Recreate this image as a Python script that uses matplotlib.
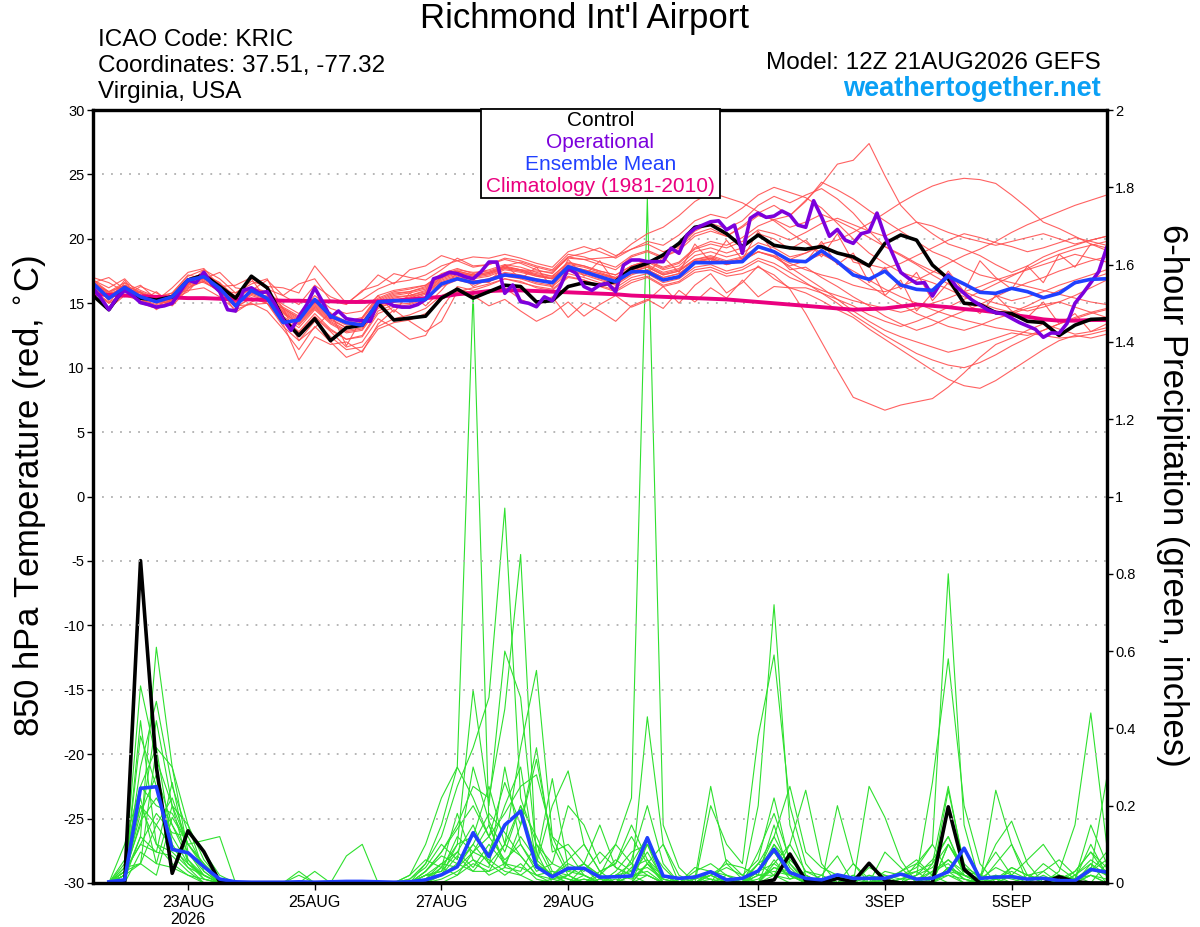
import numpy as np
import matplotlib
matplotlib.use('Agg')
import matplotlib.pyplot as plt
from matplotlib.patches import Rectangle

plt.rcParams['font.family'] = ['Liberation Sans', 'DejaVu Sans']
plt.rcParams['axes.unicode_minus'] = False

# forecast hours from 12Z 21AUG2026
hours_t = np.arange(0, 385, 6)      # 6-hourly temperature
hours_op = np.arange(0, 385, 3)     # operational run, 3-hourly
hours_p = np.arange(6, 385, 6)      # 6-hour precip totals

tick_hours = [36, 84, 132, 180, 252, 300, 348]
tick_labels = ['23AUG\n2026', '25AUG', '27AUG', '29AUG', '1SEP', '3SEP', '5SEP']

# 850 hPa temperature, control run
t_control = [15.6, 14.5, 16.2, 15.4, 15.25, 15.5, 16.8, 17.2, 16.3, 15.4, 17.1, 16.2,
             13.8, 12.5, 13.8, 12.1, 13.1, 13.3, 15.0, 13.7, 13.85, 14.0, 15.4, 16.1, 15.4, 15.9,
             16.4, 16.3, 15.1, 15.2, 16.3, 16.6, 16.4, 16.7, 17.7, 18.1, 18.75, 19.65, 20.9,
             21.1, 20.4, 19.4, 20.3, 19.5, 19.3, 19.2, 19.4, 18.9, 18.6, 17.9, 19.65, 20.3,
             19.9, 17.97, 16.9, 15.0, 14.9, 14.27, 14.2, 13.6, 13.5, 12.5, 13.3, 13.75, 13.8]

# operational (3-hourly)
t_oper = [16.2, 15.4, 14.5, 15.4, 16.0, 15.6, 15.05, 14.9, 14.7, 14.8, 15.0, 15.9, 16.8,
          16.6, 17.4, 16.5, 15.9, 14.5, 14.4, 16.0, 16.2, 15.8, 15.9, 14.9, 13.75, 12.9,
          13.95, 14.9, 16.2, 15.1, 13.9, 14.4, 13.8, 13.7, 13.65, 13.6, 15.1, 15.1, 14.8,
          14.7, 14.7, 14.9, 15.3, 16.9, 17.1, 17.4, 17.3, 17.06, 16.9, 17.45, 18.2, 18.2,
          15.77, 16.42, 15.12, 15.0, 14.73, 15.5, 15.2, 16.3, 17.7, 17.33, 16.3, 16.0, 16.42,
          16.55, 15.9, 17.97, 18.36, 18.36, 18.23, 18.23, 18.23, 19.27, 18.88, 20.3, 20.8,
          21.07, 21.33, 21.4, 20.7, 21.07, 18.88, 21.6, 22.0, 21.67, 21.77, 22.16, 21.85,
          21.07, 20.9, 22.96, 21.7, 20.2, 20.73, 19.9, 19.65, 20.4, 20.56, 22.0,
          20.2, 18.8, 17.4, 16.94, 16.55, 16.6, 15.56, 16.55, 17.2, 16.3, 15.77, 15.25,
          14.87, 14.48, 14.27, 14.17, 13.83, 13.5, 13.24, 12.98, 12.36, 12.7, 12.67, 13.44,
          15.0, 15.77, 16.6, 17.45, 19.3]

# ensemble mean
t_mean = [16.55, 15.38, 16.24, 15.5, 15.12, 15.5, 16.8, 17.06, 16.16, 14.8, 16.0, 15.38,
          13.5, 13.7, 15.3, 14.0, 13.5, 13.3, 15.1, 15.2, 15.2, 15.3, 16.5, 16.9, 16.6,
          16.8, 17.2, 17.06, 16.8, 16.6, 17.84, 17.45, 17.06, 16.68, 17.45, 17.45, 16.8,
          17.06, 18.15, 18.15, 18.17, 18.23, 19.4, 19.0, 18.3,
          18.23, 19.08, 18.23, 17.2, 16.86, 17.5, 16.42, 16.08, 16.0, 17.1, 16.5, 15.85,
          15.77, 16.16, 15.9, 15.43, 15.77, 16.6, 16.86, 16.9]

# climatology (1981-2010)
t_clim = [15.7, 15.65, 15.6, 15.55, 15.5, 15.45, 15.4, 15.4, 15.35, 15.3, 15.3, 15.25,
          15.2, 15.2, 15.15, 15.15, 15.1, 15.1, 15.15, 15.2, 15.3, 15.4, 15.5, 15.7, 15.8,
          15.95, 16.0, 16.0, 15.95, 15.9, 15.85, 15.8, 15.75, 15.7, 15.6, 15.55, 15.5, 15.45,
          15.4, 15.35, 15.3, 15.2, 15.1, 15.0, 14.9, 14.8, 14.7, 14.6, 14.5, 14.55, 14.6,
          14.75, 14.9, 14.8, 14.7, 14.55, 14.45, 14.3, 14.1, 13.95, 13.75, 13.65, 13.65,
          13.7, 13.7]

# ensemble members, temperature
t_m01 = [17.0, 16.6, 15.9, 16.4, 15.3, 15.8, 17.2, 16.9, 17.4, 16.2, 16.0, 16.8,
         15.6, 14.9, 16.4, 15.5, 15.0, 15.3, 16.1, 16.6, 16.8, 17.2, 17.9, 18.3, 17.8,
         18.0, 18.4, 18.1, 17.6, 17.3, 18.6, 18.4, 18.0, 17.6, 18.6,
         19.0, 18.5, 19.3, 20.4, 20.8, 20.2, 21.0, 22.0, 22.6, 21.8,
         23.0, 24.2, 25.8, 26.1, 27.4, 24.9, 22.6, 21.3, 20.4, 19.6,
         19.2, 18.7, 18.0, 17.4, 17.9, 18.6, 19.1, 19.5, 19.9, 20.2]
t_m02 = [16.2, 14.6, 15.6, 15.9, 14.5, 15.3, 15.9, 17.3, 16.2, 14.3, 15.1, 15.6,
         13.6, 12.4, 13.9, 12.8, 11.6, 12.0, 13.8, 13.1, 12.2, 12.5, 14.6, 16.3, 16.0,
         16.4, 16.9, 16.7, 16.2, 16.0, 17.0, 16.8, 16.3, 15.9, 16.6,
         17.0, 16.3, 16.6, 17.4, 17.6, 17.1, 17.3, 17.8, 17.2, 16.1,
         14.2, 12.0, 9.8, 7.7, 7.2, 6.7, 7.1, 7.35, 7.6, 8.5,
         9.6, 10.8, 11.8, 12.3, 12.9, 13.4, 13.0, 12.6, 12.8, 13.1]
t_m03 = [16.6, 15.9, 16.4, 15.8, 15.4, 15.6, 16.9, 17.3, 16.6, 15.5, 16.2, 15.9,
         14.9, 14.2, 15.6, 14.6, 14.2, 14.4, 15.6, 16.0, 16.2, 16.4, 17.2, 17.6, 17.4,
         17.5, 17.9, 17.6, 17.2, 17.0, 17.9, 17.6, 17.3, 17.0, 17.6,
         17.9, 17.3, 17.6, 18.4, 18.6, 18.2, 18.5, 19.3, 19.0, 18.4,
         18.9, 19.6, 19.9, 20.5, 21.2, 22.0, 22.8, 23.5, 24.1, 24.5,
         24.7, 24.6, 24.3, 23.4, 22.4, 21.3, 20.8, 20.2, 19.6, 19.3]
t_m04 = [16.0, 15.1, 15.7, 15.3, 14.9, 15.2, 16.3, 16.7, 15.9, 14.7, 15.4, 15.0,
         13.2, 12.1, 13.6, 12.4, 11.4, 11.6, 13.2, 13.8, 14.1, 14.6, 15.6, 16.1, 15.8,
         15.8, 16.2, 15.3, 14.8, 15.5, 13.9, 15.0, 14.4, 13.6, 14.8,
         15.3, 14.6, 16.0, 15.1, 16.2, 15.4, 16.8, 15.5, 16.3, 16.2,
         15.8, 15.2, 14.5, 13.9, 13.0, 12.2, 11.4, 10.6, 9.8, 9.1,
         8.6, 8.4, 9.0, 9.8, 10.6, 11.4, 12.1, 12.5, 12.3, 12.6]
t_m05 = [16.6, 17.0, 16.1, 15.1, 15.9, 14.9, 16.4, 17.6, 15.8, 15.6, 16.9, 15.2,
         14.6, 13.9, 15.1, 14.0, 13.4, 13.6, 15.2, 15.7, 15.9, 16.2, 17.1, 17.5, 17.2,
         17.4, 17.9, 18.2, 17.8, 17.5, 18.6, 18.9, 19.3, 18.7, 19.2,
         19.6, 19.0, 19.4, 20.6, 21.2, 20.8, 21.4, 22.6, 23.3, 22.8,
         23.4, 23.9, 23.1, 22.0, 20.6, 19.4, 18.8, 18.1, 17.5, 17.0,
         16.4, 16.0, 15.6, 15.2, 15.5, 15.9, 16.4, 16.8, 17.2, 17.6]
t_m06 = [16.3, 15.5, 16.0, 15.6, 15.1, 15.3, 16.5, 16.9, 16.2, 15.0, 15.7, 15.3,
         14.2, 13.3, 14.6, 13.5, 12.8, 13.0, 14.7, 15.1, 15.4, 15.8, 16.8, 17.2, 16.9,
         17.1, 17.6, 17.4, 17.1, 16.9, 18.0, 17.8, 17.4, 17.0, 17.8,
         18.2, 17.6, 17.9, 19.0, 19.3, 18.9, 19.3, 20.4, 20.0, 19.2,
         19.9, 18.6, 20.4, 18.2, 17.9, 15.6, 16.8, 14.4, 15.8, 17.5,
         15.9, 18.3, 17.0, 16.1, 17.9, 16.6, 18.8, 17.8, 19.6, 19.1]
t_m07 = [16.5, 15.4, 16.2, 15.5, 15.2, 15.4, 16.6, 17.1, 16.3, 15.1, 15.8, 15.4,
         13.9, 12.8, 14.2, 13.0, 12.2, 12.5, 14.4, 14.9, 15.0, 15.4, 16.4, 16.9, 16.5,
         16.8, 17.3, 17.0, 16.6, 16.4, 17.5, 17.2, 16.8, 16.4, 17.2,
         17.6, 17.0, 17.3, 18.2, 18.5, 18.0, 18.3, 19.0, 18.6, 17.8,
         17.0, 16.2, 15.3, 14.4, 13.6, 12.9, 12.4, 12.0, 11.6, 11.2,
         11.5, 11.9, 12.3, 12.7, 12.5, 12.9, 13.4, 13.8, 14.2, 14.5]
t_m08 = [16.8, 15.9, 16.6, 16.0, 15.5, 15.8, 17.1, 17.6, 16.9, 15.8, 16.7, 16.3,
         16.2, 15.8, 17.9, 16.4, 15.0, 15.9, 17.2, 16.5, 17.6, 17.9, 18.7, 18.3, 18.6,
         18.5, 18.8, 18.5, 18.1, 17.8, 19.0, 19.4, 19.0, 18.5, 19.2,
         19.8, 19.5, 20.3, 21.4, 21.9, 21.6, 22.4, 23.4, 24.0, 23.6,
         23.2, 22.4, 21.2, 20.0, 18.9, 18.1, 17.4, 17.0, 16.6, 16.1,
         15.5, 15.0, 14.6, 14.3, 14.8, 15.4, 16.0, 16.5, 16.9, 17.3]
t_m09 = [15.9, 15.0, 16.6, 15.0, 14.6, 15.7, 16.0, 16.2, 15.5, 14.5, 15.0, 14.4,
         13.0, 11.4, 13.2, 12.0, 10.8, 11.3, 13.0, 13.5, 13.7, 14.2, 15.3, 15.9, 15.6,
         14.8, 15.3, 14.4, 13.6, 14.2, 15.1, 14.0, 14.9, 15.6, 14.7,
         15.2, 16.3, 15.0, 16.4, 17.3, 15.8, 16.6, 17.9, 16.9, 16.2,
         16.2, 15.8, 15.3, 14.8, 14.1, 13.6, 13.2, 13.6, 14.1, 14.7,
         15.3, 15.9, 16.5, 17.1, 17.7, 18.3, 18.8, 19.2, 19.5, 19.8]
t_m10 = [16.6, 15.7, 16.2, 15.8, 15.3, 15.6, 16.7, 17.2, 16.4, 15.4, 16.1, 15.7,
         14.4, 13.6, 14.9, 13.8, 13.1, 13.4, 15.0, 15.5, 15.6, 15.9, 16.9, 17.3, 17.0,
         17.2, 17.7, 17.5, 17.2, 16.9, 17.8, 17.5, 17.2, 16.9, 17.5,
         17.8, 17.2, 17.5, 18.3, 18.5, 18.1, 18.4, 19.0, 18.7, 18.1,
         17.6, 17.2, 16.9, 16.4, 16.1, 15.9, 16.3, 16.8, 17.4, 18.1,
         18.7, 19.2, 19.8, 20.5, 21.1, 21.6, 22.1, 22.6, 23.0, 23.4]
t_m11 = [16.4, 15.9, 15.5, 16.3, 15.8, 15.1, 16.8, 16.6, 16.0, 15.8, 16.5, 16.9,
         14.5, 13.7, 15.0, 13.9, 13.3, 13.5, 15.1, 15.6, 15.8, 16.1, 17.0, 17.4, 17.1,
         17.3, 17.8, 17.6, 17.5, 17.4, 18.5, 18.4, 18.5, 18.6, 19.6,
         20.4, 20.9, 21.8, 22.9, 23.6, 23.2, 22.8, 22.1, 21.4, 20.5,
         19.7, 18.9, 18.1, 17.2, 16.4, 15.6, 14.9, 14.2, 13.7, 13.2,
         12.9, 13.3, 13.8, 14.2, 14.6, 14.9, 15.1, 14.7, 14.3, 13.9]
t_m12 = [16.2, 15.4, 15.9, 15.5, 15.0, 15.2, 16.4, 16.8, 16.1, 15.0, 15.6, 15.2,
         14.6, 12.1, 13.1, 14.3, 11.7, 13.9, 15.6, 14.3, 15.8, 14.8, 16.0, 17.4, 16.3,
         16.9, 17.4, 17.2, 16.9, 16.7, 17.7, 17.4, 17.0, 16.6, 17.4,
         17.8, 17.2, 17.5, 18.4, 18.7, 18.3, 18.6, 19.4, 19.0, 18.3,
         18.2, 19.8, 18.0, 18.9, 16.6, 17.8, 16.1, 17.4, 15.2, 16.6,
         15.1, 14.2, 15.6, 14.4, 13.9, 15.1, 13.4, 14.2, 12.8, 13.4]
t_m13 = [16.7, 15.8, 16.4, 15.9, 15.4, 15.6, 16.9, 17.3, 16.5, 15.5, 16.2, 15.8,
         14.7, 14.0, 15.3, 14.2, 13.6, 13.9, 15.4, 15.9, 16.1, 16.4, 17.3, 17.7, 17.3,
         17.6, 18.0, 17.8, 17.4, 17.1, 18.2, 17.9, 17.5, 17.2, 17.9,
         18.3, 17.7, 18.1, 19.2, 19.6, 19.3, 19.8, 20.7, 20.4, 19.9,
         20.5, 21.2, 21.6, 21.1, 20.6, 20.2, 20.8, 21.3, 21.0, 20.5,
         20.1, 19.8, 19.5, 19.8, 20.1, 20.4, 20.0, 19.6, 19.9, 20.2]
t_m14 = [16.5, 15.2, 16.8, 15.0, 15.4, 14.8, 16.1, 17.2, 16.6, 14.8, 14.9, 15.0,
         13.7, 12.7, 14.0, 12.9, 12.2, 12.4, 14.2, 14.7, 14.9, 15.3, 16.3, 16.8, 16.5,
         16.7, 17.1, 16.9, 16.5, 16.3, 17.3, 17.0, 16.6, 16.2, 17.0,
         17.3, 16.6, 16.9, 17.8, 18.0, 17.5, 17.8, 18.5, 18.1, 17.4,
         16.6, 15.8, 15.0, 14.1, 13.3, 12.5, 11.8, 11.1, 10.6, 10.2,
         10.0, 10.4, 11.0, 11.7, 12.3, 12.9, 13.4, 13.9, 14.3, 14.6]
t_m15 = [16.5, 15.7, 16.2, 15.8, 15.3, 15.5, 16.8, 17.2, 16.5, 15.4, 16.2, 15.8,
         14.6, 13.8, 15.2, 14.1, 13.5, 13.8, 15.3, 15.8, 15.9, 16.3, 17.2, 17.5, 17.2,
         17.4, 17.8, 17.6, 17.3, 17.1, 18.1, 17.9, 17.5, 17.2, 17.9,
         18.3, 17.8, 18.2, 19.3, 19.8, 19.5, 20.1, 21.0, 21.5, 21.8,
         22.9, 24.4, 23.8, 23.1, 22.2, 21.4, 20.6, 19.8, 19.0, 18.5,
         17.8, 17.2, 16.9, 16.6, 16.3, 16.0, 15.7, 15.4, 15.1, 14.9]
t_m16 = [16.0, 15.0, 15.6, 15.2, 14.8, 15.1, 16.2, 16.7, 15.9, 14.7, 15.4, 15.0,
         13.4, 10.6, 12.4, 11.8, 12.0, 11.2, 13.4, 14.5, 13.6, 12.8, 13.6, 15.9, 16.2,
         16.5, 16.9, 16.6, 16.3, 16.1, 17.1, 16.8, 16.4, 16.0, 16.8,
         17.1, 16.4, 16.7, 17.6, 17.8, 17.3, 17.6, 18.3, 17.8, 17.0,
         16.5, 16.0, 15.6, 15.2, 14.9, 14.6, 14.3, 14.6, 15.0, 15.4,
         15.9, 16.3, 16.8, 17.2, 17.6, 18.0, 18.4, 18.8, 18.5, 18.2]
t_m17 = [16.6, 15.5, 16.3, 15.6, 15.1, 15.4, 16.7, 17.1, 16.2, 15.2, 15.9, 15.5,
         14.3, 13.4, 14.7, 13.6, 12.9, 13.1, 14.8, 15.2, 15.5, 15.8, 16.7, 17.1, 16.8,
         16.6, 18.0, 16.9, 17.8, 16.2, 18.4, 17.1, 18.3, 16.5, 17.9,
         17.3, 18.6, 17.4, 19.6, 18.2, 19.9, 18.4, 20.6, 18.9, 17.6,
         17.8, 17.0, 16.3, 15.5, 14.8, 14.0, 13.4, 12.9, 13.3, 13.9,
         14.4, 14.9, 15.5, 16.1, 16.6, 17.0, 17.5, 17.9, 18.3, 18.6]
t_m18 = [16.8, 16.2, 16.9, 15.6, 15.2, 16.2, 17.4, 17.7, 16.3, 16.4, 17.0, 16.1,
         15.6, 16.5, 16.9, 15.2, 14.9, 16.0, 16.4, 17.3, 17.0, 16.8, 17.6, 18.5, 17.9,
         18.0, 18.5, 18.3, 17.9, 17.6, 18.8, 18.6, 18.2, 17.8, 18.7,
         19.1, 18.6, 19.1, 20.2, 20.6, 20.2, 20.9, 21.8, 21.5, 20.9,
         21.3, 21.9, 21.4, 20.8, 20.1, 19.4, 18.7, 18.0, 17.2, 16.5,
         15.9, 15.4, 15.0, 14.7, 14.4, 14.7, 15.1, 15.6, 16.2, 16.8]
t_m19 = [16.4, 15.5, 16.0, 15.5, 15.1, 15.3, 16.5, 16.9, 16.2, 15.1, 15.8, 15.4,
         14.0, 13.1, 14.5, 13.4, 12.7, 12.9, 14.6, 15.1, 15.3, 15.7, 16.6, 17.0, 16.7,
         16.9, 17.3, 17.1, 16.8, 16.6, 17.6, 17.3, 16.9, 16.5, 17.3,
         17.6, 17.0, 17.3, 18.2, 18.4, 18.0, 18.3, 19.0, 18.6, 17.9,
         18.3, 18.8, 18.2, 17.5, 16.8, 16.1, 15.5, 15.0, 14.5, 14.1,
         13.7, 13.4, 13.1, 12.9, 12.7, 12.5, 12.3, 12.4, 12.6, 12.9]
t_m20 = [16.2, 15.4, 16.0, 15.6, 15.2, 15.4, 16.6, 17.1, 16.3, 15.2, 15.9, 15.5,
         14.3, 13.5, 14.8, 13.7, 13.1, 13.3, 14.9, 15.4, 15.6, 16.0, 17.0, 17.4, 17.1,
         17.3, 17.7, 17.5, 17.1, 16.9, 17.9, 17.6, 17.3, 16.9, 17.6,
         18.0, 17.4, 17.7, 18.7, 19.0, 18.6, 18.9, 19.7, 19.3, 18.6,
         18.9, 19.4, 18.9, 18.4, 18.0, 17.7, 18.1, 18.7, 19.3, 19.9,
         20.4, 20.1, 19.7, 19.4, 19.0, 19.3, 19.7, 20.1, 19.8, 19.5]

t_members = [t_m01, t_m02, t_m03, t_m04, t_m05, t_m06, t_m07, t_m08, t_m09, t_m10,
             t_m11, t_m12, t_m13, t_m14, t_m15, t_m16, t_m17, t_m18, t_m19, t_m20]

# 6-hour precipitation (inches), control and ensemble mean
p_control = [0, 0, .834, .30, .025, .135, .081, .003,
             0, 0, 0, 0, 0, 0, 0, 0,
             0, 0, 0, 0, 0, 0, 0, 0,
             0, 0, 0, 0, 0, 0, 0, 0,
             0, 0, 0, 0, 0, 0, 0, 0,
             0, 0, .008, .075, .006, 0, .012, .003,
             .051, .006, 0, 0, 0, .197, .035, 0,
             0, 0, 0, 0, .016, .003, 0, 0]
p_mean = [.003, .008, .245, .249, .087, .078, .042, .01,
          .003, .002, .002, .002, .003, .002, .003, .004,
          .004, .003, .002, .003, .008, .021, .042, .13,
          .068, .15, .186, .042, .016, .038, .038, .015,
          .016, .018, .117, .018, .012, .015, .029, .008,
          .012, .031, .087, .027, .012, .008, .021, .012,
          .012, .012, .023, .01, .012, .029, .09, .012,
          .015, .016, .01, .012, .006, .006, .035, .028]

# ensemble members, precipitation
p_m01 = [0, .02, .38, .25, .12, .05, .02, 0,
         0, 0, 0, 0, 0, 0, 0, 0,
         0, 0, 0, .02, .10, .22, .30, 1.53,
         .15, .05, .02, 0, .01, 0, .02, 0,
         0, .04, .06, .02, 0, 0, 0, 0,
         0, .03, .08, .02, 0, 0, 0, 0,
         0, 0, 0, 0, .05, .12, .03, 0,
         0, 0, 0, 0, 0, 0, .02, 0]
p_m02 = [0, .05, .2, .15, .22, .1, .04, 0,
         0, 0, 0, 0, 0, 0, 0, 0,
         0, 0, 0, 0, .02, .05, .04, .08,
         .12, .06, .10, .03, .05, .2, .15, .05,
         .1, .22, 1.77, .15, .04, 0, .02, 0,
         0, 0, .05, .02, 0, 0, 0, 0,
         0, 0, .03, .06, .02, 0, 0, 0,
         0, 0, .02, 0, 0, .03, .08, .02]
p_m03 = [0, .03, .51, .32, .2, .1, .05, .01,
         0, 0, 0, 0, 0, 0, 0, 0,
         0, 0, 0, .01, .05, .12, .25, .35,
         .48, .97, .22, .1, .02, 0, .04, 0,
         0, 0, .05, .1, .02, 0, 0, 0,
         0, .2, .72, .15, .02, 0, 0, 0,
         0, 0, 0, 0, 0, .1, .03, 0,
         0, 0, 0, 0, 0, 0, 0, 0]
p_m04 = [0, .01, .12, .61, .3, .08, .03, 0,
         0, 0, 0, 0, 0, 0, 0, 0,
         0, 0, 0, 0, .03, .08, .15, .25,
         .22, .45, .85, .05, .02, .06, .1, .03,
         0, .02, .43, .1, 0, 0, .03, .02,
         0, 0, .1, .05, 0, 0, .02, 0,
         0, 0, 0, .02, .26, .58, .2, .05,
         0, 0, 0, 0, 0, 0, 0, 0]
p_m05 = [0, .02, .3, .47, .25, .13, .08, .02,
         0, 0, 0, 0, 0, 0, 0, 0,
         0, 0, 0, 0, 0, .04, .1, .5,
         .2, .6, .48, .08, 0, 0, 0, .03,
         .05, .15, .06, 0, 0, 0, .2, .1,
         .05, .38, .59, .2, .05, 0, 0, 0,
         0, 0, 0, .05, .1, .8, .15, 0,
         0, 0, 0, 0, 0, 0, .05, 0]
p_m06 = [0, .1, .25, .2, .18, .1, .11, .12,
         0, 0, 0, 0, .03, 0, 0, 0,
         0, 0, 0, 0, .01, .02, .05, .03,
         .08, .2, .3, .05, .02, .01, 0, 0,
         .03, .08, .1, 0, 0, 0, 0, .06,
         .02, 0, .04, .03, .01, 0, 0, .05,
         .01, 0, 0, 0, 0, .03, .02, 0,
         .05, .1, .02, 0, .03, .15, .44, .1]
p_m07 = [0, .03, .15, .42, .2, .05, .02, 0,
         0, 0, 0, 0, 0, 0, 0, .07,
         .1, 0, 0, 0, .03, .08, .14, .2,
         .12, .18, .25, .28, .12, .08, .02, 0,
         0, 0, .02, 0, 0, 0, .03, 0,
         0, .05, .12, .25, .08, .04, .02, 0,
         .25, .17, .06, 0, 0, .04, .02, 0,
         0, 0, 0, 0, 0, 0, 0, 0]
p_m08 = [0, .04, .05, .35, .3, .15, .06, .01,
         0, 0, 0, 0, .02, 0, 0, 0,
         0, 0, 0, 0, .05, .15, .3, .22,
         .12, .26, .15, .35, .08, .1, .05, .02,
         .06, .03, .1, .04, 0, .02, .01, 0,
         .01, .05, .02, .1, .24, .05, 0, .02,
         0, .03, .02, .04, .1, .03, 0, .01,
         .1, .16, .05, 0, .02, .01, .03, .27]
p_m09 = [0, .01, .2, .1, .08, .04, 0, 0,
         0, 0, 0, 0, 0, 0, 0, 0,
         0, 0, 0, 0, 0, .02, .1, .12,
         .25, .1, .35, .55, .12, .03, .05, .01,
         0, .06, .2, .05, 0, .03, .05, .02,
         .01, .03, .1, .03, 0, .02, .07, 0,
         .04, .02, 0, 0, .02, .24, .05, .01,
         .02, 0, 0, .03, .06, .02, 0, .05]
p_m10 = [0, 0, .08, .05, .2, .15, .03, 0,
         0, 0, 0, 0, 0, 0, 0, 0,
         0, 0, 0, .01, .04, .1, .06, .3,
         .16, .08, .2, .12, .03, .02, 0, 0,
         .02, .05, .12, .02, 0, 0, .02, .05,
         .04, .02, .15, .02, 0, 0, .2, .05,
         0, .01, 0, 0, .03, .06, .02, 0,
         .24, .1, 0, .02, 0, 0, .02, 0]
p_m11 = [0, .02, .16, .22, .15, .08, .02, 0,
         0, 0, 0, 0, 0, .03, 0, 0,
         0, 0, 0, 0, .02, .03, .08, .04,
         .1, .05, .12, .06, .27, .04, .02, 0,
         .01, 0, .05, .01, 0, 0, 0, .02,
         0, .03, .05, .1, .03, .01, 0, 0,
         .02, 0, .01, .03, .05, .25, .04, 0,
         .01, .04, .02, .01, 0, .01, .15, .05]
p_m12 = [0, .01, .42, .1, .05, .02, 0, 0,
         0, 0, 0, 0, 0, 0, 0, 0,
         0, 0, 0, 0, 0, 0, .02, .05,
         .03, .1, .07, .02, 0, 0, .01, 0,
         0, .02, 0, 0, 0, 0, .01, 0,
         0, 0, .02, 0, 0, 0, 0, 0,
         0, 0, 0, 0, 0, .02, 0, 0,
         0, 0, 0, 0, 0, 0, 0, 0]
p_m13 = [0, .03, .05, .02, .17, .1, .05, 0,
         0, 0, 0, 0, 0, 0, 0, 0,
         0, 0, 0, .02, .06, .04, .18, .06,
         .04, .3, .1, .04, .02, .05, .03, .08,
         .04, .02, .08, .01, 0, 0, 0, 0,
         0, .08, .18, .06, .02, 0, 0, 0,
         0, .08, .04, 0, 0, .1, .04, .02,
         .08, .02, .06, .1, .04, .01, .03, .08]
p_m14 = [0, .02, .12, .08, .26, .06, .02, 0,
         0, 0, 0, 0, 0, 0, 0, 0,
         0, 0, 0, 0, .01, .05, .08, .15,
         .05, .02, .05, .01, 0, .02, .05, .02,
         .1, .05, .02, 0, 0, .04, .03, .01,
         0, .02, .02, .01, .03, .02, 0, 0,
         0, 0, 0, .02, .06, .12, .02, 0,
         0, .04, .02, .03, 0, .02, .05, .02]
p_m15 = [0, .06, .25, .35, .1, .04, .02, 0,
         0, 0, 0, 0, 0, 0, 0, 0,
         0, 0, 0, 0, .03, .07, .05, .1,
         .18, .13, .07, .02, .03, .01, 0, .02,
         0, 0, .1, .02, 0, .01, .02, .04,
         .02, .06, .22, .05, .01, 0, 0, .01,
         0, 0, .01, .02, .04, .1, .03, .01,
         0, .02, 0, 0, .02, .01, .1, .02]
p_m16 = [0, .02, .18, .28, .15, .06, .01, 0,
         0, 0, 0, 0, 0, 0, 0, 0,
         0, 0, 0, 0, 0, .02, .04, .1,
         .05, .1, .2, .06, .02, 0, .01, 0,
         .02, .01, .05, 0, 0, 0, 0, 0,
         0, .01, .04, .02, 0, 0, 0, 0,
         0, 0, 0, 0, .01, .02, .01, 0,
         0, 0, 0, 0, 0, .02, .06, .03]
p_m17 = [0, .03, .1, .18, .13, .12, .04, 0,
         0, 0, 0, 0, 0, 0, 0, 0,
         0, 0, 0, 0, .02, .03, .12, .08,
         .15, .04, .03, .1, .05, .03, .02, 0,
         .02, .03, .04, .01, 0, 0, 0, 0,
         0, .02, .03, .02, 0, 0, 0, 0,
         0, .02, .01, .01, .03, .05, .01, 0,
         .02, .01, 0, 0, .01, .03, .08, .04]
p_m18 = [0, .04, .22, .05, .04, .02, .01, 0,
         0, 0, 0, 0, 0, 0, 0, 0,
         0, 0, 0, 0, 0, .01, .03, .06,
         .02, .04, .15, .32, .1, .02, 0, .01,
         0, .02, .03, 0, 0, 0, 0, 0,
         0, .03, .12, .04, 0, 0, 0, 0,
         0, 0, 0, 0, 0, .04, .01, 0,
         .01, 0, 0, 0, 0, .01, .02, .01]
p_m19 = [0, .02, .05, .15, .09, .05, .01, 0,
         0, 0, 0, 0, 0, 0, 0, 0,
         0, 0, 0, 0, .01, .04, .02, .08,
         .06, .03, .02, .05, .2, .29, .1, .03,
         .05, .12, .05, .02, 0, 0, .02, 0,
         0, .05, .08, .03, 0, 0, 0, 0,
         .02, .01, .03, .05, .02, .06, .03, .02,
         .01, .03, .01, .05, .02, 0, .03, .06]
p_m20 = [0, .03, .1, .08, .07, .03, 0, 0,
         0, 0, 0, 0, 0, 0, 0, 0,
         0, 0, 0, 0, .02, .02, .07, .03,
         .03, .05, .04, .02, .01, .02, .05, .15,
         .04, .02, .02, 0, 0, .01, .25, .05,
         .01, 0, .06, .01, .02, 0, 0, .02,
         0, .01, .02, .03, 0, .04, .02, .01,
         .04, .02, .01, .01, .02, .01, .04, .02]

p_members = [p_m01, p_m02, p_m03, p_m04, p_m05, p_m06, p_m07, p_m08, p_m09, p_m10,
             p_m11, p_m12, p_m13, p_m14, p_m15, p_m16, p_m17, p_m18, p_m19, p_m20]

for m in t_members:
    assert len(m) == len(hours_t)
for m in p_members + [p_control, p_mean]:
    assert len(m) == len(hours_p)
assert len(t_oper) == len(hours_op)

RED = '#ff5050'
GREEN = '#2ee02e'
BLUE = '#2040ff'
PURPLE = '#7c00dc'
PINK = '#ea007f'

fig = plt.figure(figsize=(12, 9.27), dpi=100)
ax = fig.add_axes([0.0775, 0.0475, 0.8447, 0.8338])
ax2 = ax.twinx()
# temperature on top, precipitation behind it
ax.set_zorder(ax2.get_zorder() + 1)
ax.patch.set_visible(False)

# precipitation
for m in p_members:
    ax2.plot(hours_p, m, color=GREEN, lw=0.8)
ax2.plot(hours_p, p_control, color='black', lw=2.6)
ax2.plot(hours_p, p_mean, color=BLUE, lw=2.6)
ax2.set_ylim(0, 2)
ax2.set_yticks(np.arange(0, 2.01, 0.2))
ax2.set_yticklabels(['0', '0.2', '0.4', '0.6', '0.8', '1', '1.2', '1.4', '1.6', '1.8', '2'])

# temperature
ax.grid(axis='y', color='#b0b0b0', lw=1.3, ls=(0, (1, 4)))
for m in t_members:
    ax.plot(hours_t, m, color=RED, lw=0.8, alpha=0.9)
ax.plot(hours_t, t_clim, color=PINK, lw=2.8)
ax.plot(hours_t, t_control, color='black', lw=2.6)
ax.plot(hours_op, t_oper, color=PURPLE, lw=2.6)
ax.plot(hours_t, t_mean, color=BLUE, lw=2.6)

ax.set_xlim(0, 384)
ax.set_ylim(-30, 30)
ax.set_yticks(range(-30, 31, 5))
ax.set_xticks(tick_hours)
ax.set_xticklabels(tick_labels, fontsize=11.5, linespacing=1.1)

for a in (ax, ax2):
    for s in a.spines.values():
        s.set_linewidth(2.3)
    a.tick_params(axis='y', direction='out', length=4, width=1, labelsize=10.5, pad=2)
ax.tick_params(axis='x', direction='out', length=5, width=1, pad=4)

# legend box
fig.patches.append(Rectangle((0.4008, 0.7864), 0.1992, 0.0960, transform=fig.transFigure,
                             facecolor='white', edgecolor='black', lw=1.3, zorder=5))
leg_items = [('Control', 'black'), ('Operational', PURPLE),
             ('Ensemble Mean', BLUE), ('Climatology (1981-2010)', PINK)]
for i, (txt, col) in enumerate(leg_items):
    fig.text(0.5004, 0.8695 - i * 0.0234, txt, color=col, fontsize=15,
             ha='center', va='center', zorder=6)

# header
fig.text(0.4875, 0.980, "Richmond Int'l Airport", fontsize=25, ha='center', va='center')
fig.text(0.0817, 0.957, 'ICAO Code: KRIC', fontsize=17.5, va='center')
fig.text(0.0817, 0.929, 'Coordinates: 37.51, -77.32', fontsize=17.5, va='center')
fig.text(0.0817, 0.901, 'Virginia, USA', fontsize=17.5, va='center')
fig.text(0.9175, 0.932, 'Model: 12Z 21AUG2026 GEFS', fontsize=17.5, ha='right', va='center')
fig.text(0.9175, 0.904, 'weathertogether.net', fontsize=19.5, fontweight='bold',
         color='#0aa0f5', ha='right', va='center')

fig.text(0.025, 0.465, r'850 hPa Temperature (red, $^{\circ}$C)', fontsize=25,
         rotation=90, ha='center', va='center')
fig.text(0.977, 0.466, '6-hour Precipitation (green, inches)', fontsize=25,
         rotation=270, ha='center', va='center')

fig.savefig('out.png', dpi=100)
